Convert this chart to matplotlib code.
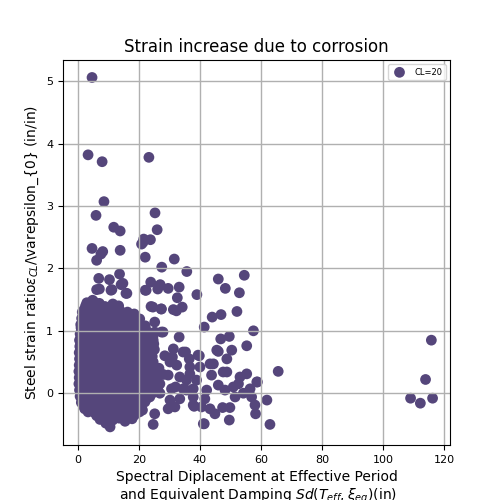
import matplotlib
matplotlib.use("Agg")
import matplotlib.pyplot as plt

# Scattered points (outside the dense blob)
sd_outer = [4.7, 3.4, 8.0, 23.3, 8.6, 6.0, 25.3, 11.8, 13.9, 26.0, 21.6, 23.8, 20.9, 4.7,
            8.2, 7.6, 13.9, 6.2, 22.1, 31.6, 27.5, 35.7, 13.7, 6.9, 10.4, 14.2, 23.9, 27.0,
            29.6, 33.2, 22.1, 6.2, 11.2, 16.1, 26.2, 32.6, 39.0, 4.9, 21.4, 46.0, 54.5,
            48.3, 52.9, 24.0, 27.4, 31.3, 34.2, 32.3, 44.0, 46.9, 52.1, 41.4, 57.5, 25.2,
            46.8, 49.6, 55.3, 46.0, 50.4, 48.8, 35.3, 65.6, 58.8, 61.9, 58.0, 58.2, 62.9,
            49.6, 41.4, 43.3, 44.9, 47.4, 49.8, 38.1, 44.4, 47.6, 53.1, 55.3, 58.6, 56.4,
            54.2, 51.5, 48.2, 42.2, 41.6, 48.8, 52.6, 46.0, 43.8, 40.0, 36.7, 38.9, 35.6,
            37.8, 50.9, 56.9, 108.9, 112.1, 113.8, 115.7, 116.1,
            27.4, 33.2, 31.3, 34.5, 39.4, 45.5, 22.5, 30.2, 32.4, 36.7, 43.3, 29.6, 33.4,
            35.6, 30.7, 34.5, 37.8, 30.2, 33.4, 37.8, 29.6, 31.8, 25.2, 24.7, 40.5, 41.1,
            26.9, 26.9, 25.8, 24.7, 25.2, 7.1, 10.9, 14.8, 15.8, 3.8, 11.5, 22.4, 24.6,
            27.3, 27.9, 28.5, 31.0, 36.5, 39.8, 28.0, 32.0]
ratio_outer = [5.06, 3.82, 3.71, 3.78, 3.07, 2.85, 2.89, 2.66, 2.60, 2.62, 2.47, 2.46, 2.39, 2.32,
               2.27, 2.23, 2.29, 2.13, 2.18, 2.15, 2.02, 1.95, 1.91, 1.84, 1.82, 1.74, 1.78, 1.74,
               1.68, 1.70, 1.65, 1.66, 1.66, 1.60, 1.67, 1.53, 1.58, 1.49, 2.42, 1.83, 1.89,
               1.68, 1.61, 1.39, 1.35, 1.34, 1.38, 1.32, 1.22, 1.26, 1.31, 1.06, 1.00, 1.14,
               0.87, 0.91, 0.76, 0.67, 0.69, 0.55, 0.66, 0.35, 0.18, -0.11, -0.19, -0.33, -0.50,
               -0.43, -0.49, -0.25, -0.33, -0.23, -0.23, -0.21, 0.47, 0.34, 0.26, 0.31, 0.18, 0.07,
               0.00, -0.06, 0.05, 0.05, -0.09, 0.34, 0.15, 0.13, 0.29, 0.42, 0.31, 0.21, 0.05,
               -0.06, 0.10, -0.06, -0.08, -0.16, 0.22, 0.85, -0.08,
               0.98, 0.90, 0.71, 0.66, 0.61, 0.69, 0.77, 0.50, 0.45, 0.42, 0.47, 0.29, 0.26,
               0.21, 0.07, 0.07, 0.07, -0.11, -0.09, -0.19, -0.25, -0.22, -0.33, -0.50, -0.22, -0.49,
               0.15, 0.00, 0.34, 0.85, 0.98, 1.67, 1.65, 1.76, 1.60, 1.41, 1.43, 1.65, 1.38,
               1.35, 0.98, 0.60, 0.58, 0.55, 0.60, 0.30, 0.10]

# Dense blob of points at small spectral displacement (row set A)
sd_blob = [3.0, 5.2, 7.1,
           2.1, 4.3, 6.0, 9.2, 12.1, 16.3,
           2.2, 4.1, 6.2, 8.1, 10.3, 13.2, 15.1, 17.4,
           1.6, 3.5, 5.6, 7.7, 9.8, 11.9, 14.0, 16.1, 18.3, 19.2,
           1.1, 3.0, 5.1, 7.2, 9.3, 11.4, 13.5, 15.6, 17.7, 19.8,
           0.8, 2.8, 4.9, 7.0, 9.1, 11.2, 13.3, 15.4, 17.5, 19.6, 21.7,
           0.6, 2.7, 4.8, 6.9, 9.0, 11.1, 13.2, 15.3, 17.4, 19.5, 21.6, 23.5,
           0.7, 2.6, 4.7, 6.8, 8.9, 11.0, 13.1, 15.2, 17.3, 19.4, 21.5, 23.9,
           0.5, 2.5, 4.6, 6.7, 8.8, 10.9, 13.0, 15.1, 17.2, 19.3, 21.4, 23.7,
           0.6, 2.6, 4.7, 6.8, 8.9, 11.0, 13.1, 15.2, 17.3, 19.4, 21.5, 24.2,
           0.5, 2.5, 4.6, 6.7, 8.8, 10.9, 13.0, 15.1, 17.2, 19.3, 21.4, 23.8,
           0.4, 2.4, 4.5, 6.6, 8.7, 10.8, 12.9, 15.0, 17.1, 19.2, 21.3, 23.6, 25.5,
           0.5, 2.5, 4.6, 6.7, 8.8, 10.9, 13.0, 15.1, 17.2, 19.3, 21.4, 23.5, 25.8,
           0.4, 2.4, 4.5, 6.6, 8.7, 10.8, 12.9, 15.0, 17.1, 19.2, 21.3, 23.4, 25.6,
           0.6, 2.6, 4.7, 6.8, 8.9, 11.0, 13.1, 15.2, 17.3, 19.4, 21.5, 23.7, 25.9,
           0.8, 2.8, 4.9, 7.0, 9.1, 11.2, 13.3, 15.4, 17.5, 19.6, 21.7, 23.6,
           1.2, 3.1, 5.2, 7.3, 9.4, 11.5, 13.6, 15.7, 17.8, 19.9, 22.0,
           2.3, 4.4, 6.5, 8.6, 10.7, 12.8, 14.9, 17.0, 19.1, 21.2,
           6.2, 8.3, 10.4, 12.5, 14.6, 16.7, 18.6,
           9.2, 10.6, 15.5]
ratio_blob = [1.45, 1.47, 1.44,
              1.34, 1.36, 1.33, 1.35, 1.32, 1.30,
              1.25, 1.24, 1.26, 1.23, 1.25, 1.24, 1.22, 1.26,
              1.15, 1.14, 1.16, 1.13, 1.15, 1.16, 1.14, 1.15, 1.13, 1.17,
              1.05, 1.04, 1.06, 1.05, 1.03, 1.05, 1.06, 1.04, 1.05, 1.03,
              0.95, 0.94, 0.96, 0.95, 0.93, 0.95, 0.96, 0.94, 0.95, 0.93, 0.96,
              0.85, 0.84, 0.86, 0.85, 0.83, 0.85, 0.86, 0.84, 0.85, 0.83, 0.86, 0.84,
              0.75, 0.74, 0.76, 0.75, 0.73, 0.75, 0.76, 0.74, 0.75, 0.73, 0.76, 0.74,
              0.65, 0.64, 0.66, 0.65, 0.63, 0.65, 0.66, 0.64, 0.65, 0.63, 0.66, 0.64,
              0.55, 0.54, 0.56, 0.55, 0.53, 0.55, 0.56, 0.54, 0.55, 0.53, 0.56, 0.54,
              0.45, 0.44, 0.46, 0.45, 0.43, 0.45, 0.46, 0.44, 0.45, 0.43, 0.46, 0.44,
              0.35, 0.34, 0.36, 0.35, 0.33, 0.35, 0.36, 0.34, 0.35, 0.33, 0.36, 0.34, 0.36,
              0.25, 0.24, 0.26, 0.25, 0.23, 0.25, 0.26, 0.24, 0.25, 0.23, 0.26, 0.24, 0.25,
              0.15, 0.14, 0.16, 0.15, 0.13, 0.15, 0.16, 0.14, 0.15, 0.13, 0.16, 0.14, 0.15,
              0.05, 0.04, 0.06, 0.05, 0.03, 0.05, 0.06, 0.04, 0.05, 0.03, 0.06, 0.04, 0.05,
              -0.05, -0.06, -0.04, -0.05, -0.07, -0.05, -0.04, -0.06, -0.05, -0.07, -0.04, -0.06,
              -0.15, -0.16, -0.14, -0.15, -0.17, -0.15, -0.14, -0.16, -0.15, -0.17, -0.14,
              -0.25, -0.26, -0.24, -0.25, -0.27, -0.25, -0.24, -0.26, -0.25, -0.27,
              -0.36, -0.38, -0.35, -0.37, -0.36, -0.38, -0.35,
              -0.48, -0.54, -0.45]

# Dense blob, interleaved row set B
sd_blob2 = [2.6, 5.3, 8.9, 13.4,
            1.5, 3.6, 5.7, 7.8, 9.9, 12.0, 14.1, 16.2, 18.5,
            1.3, 3.4, 5.5, 7.6, 9.7, 11.8, 13.9, 16.0, 18.1, 20.3,
            1.0, 3.1, 5.2, 7.3, 9.4, 11.5, 13.6, 15.7, 17.8, 19.9, 22.1,
            1.2, 3.3, 5.4, 7.5, 9.6, 11.7, 13.8, 15.9, 18.0, 20.1, 22.4,
            1.1, 3.2, 5.3, 7.4, 9.5, 11.6, 13.7, 15.8, 17.9, 20.0, 22.2, 24.6,
            1.0, 3.1, 5.2, 7.3, 9.4, 11.5, 13.6, 15.7, 17.8, 19.9, 22.0, 24.9,
            1.2, 3.3, 5.4, 7.5, 9.6, 11.7, 13.8, 15.9, 18.0, 20.1, 22.3, 25.1,
            1.1, 3.2, 5.3, 7.4, 9.5, 11.6, 13.7, 15.8, 17.9, 20.0, 22.1, 24.4,
            1.0, 3.1, 5.2, 7.3, 9.4, 11.5, 13.6, 15.7, 17.8, 19.9, 22.2, 24.7,
            0.9, 3.0, 5.1, 7.2, 9.3, 11.4, 13.5, 15.6, 17.7, 19.8, 22.0, 24.5, 26.6,
            1.0, 3.1, 5.2, 7.3, 9.4, 11.5, 13.6, 15.7, 17.8, 19.9, 22.1, 24.3, 26.4,
            0.9, 3.0, 5.1, 7.2, 9.3, 11.4, 13.5, 15.6, 17.7, 19.8, 21.9, 24.1, 26.2,
            1.1, 3.2, 5.3, 7.4, 9.5, 11.6, 13.7, 15.8, 17.9, 20.0, 22.1, 24.4,
            1.4, 3.5, 5.6, 7.7, 9.8, 11.9, 14.0, 16.1, 18.2, 20.3, 22.5,
            1.8, 3.8, 5.9, 8.0, 10.1, 12.2, 14.3, 16.4, 18.5, 20.6,
            3.4, 5.5, 7.6, 9.7, 11.8, 13.9, 16.0, 18.1, 20.2,
            7.3, 9.4, 11.5, 13.6, 15.7, 17.8]
ratio_blob2 = [1.40, 1.41, 1.39, 1.40,
               1.30, 1.29, 1.31, 1.28, 1.30, 1.29, 1.31, 1.28, 1.27,
               1.20, 1.19, 1.21, 1.18, 1.20, 1.19, 1.21, 1.18, 1.20, 1.19,
               1.10, 1.09, 1.11, 1.08, 1.10, 1.09, 1.11, 1.08, 1.10, 1.09, 1.08,
               1.00, 0.99, 1.01, 0.98, 1.00, 0.99, 1.01, 0.98, 1.00, 0.99, 1.01,
               0.90, 0.89, 0.91, 0.88, 0.90, 0.89, 0.91, 0.88, 0.90, 0.89, 0.91, 0.90,
               0.80, 0.79, 0.81, 0.78, 0.80, 0.79, 0.81, 0.78, 0.80, 0.79, 0.81, 0.79,
               0.70, 0.69, 0.71, 0.68, 0.70, 0.69, 0.71, 0.68, 0.70, 0.69, 0.71, 0.70,
               0.60, 0.59, 0.61, 0.58, 0.60, 0.59, 0.61, 0.58, 0.60, 0.59, 0.61, 0.59,
               0.50, 0.49, 0.51, 0.48, 0.50, 0.49, 0.51, 0.48, 0.50, 0.49, 0.51, 0.50,
               0.40, 0.39, 0.41, 0.38, 0.40, 0.39, 0.41, 0.38, 0.40, 0.39, 0.41, 0.39, 0.40,
               0.30, 0.29, 0.31, 0.28, 0.30, 0.29, 0.31, 0.28, 0.30, 0.29, 0.31, 0.30, 0.29,
               0.10, 0.09, 0.11, 0.08, 0.10, 0.09, 0.11, 0.08, 0.10, 0.09, 0.11, 0.10, 0.09,
               0.00, -0.01, 0.01, -0.02, 0.00, -0.01, 0.01, -0.02, 0.00, -0.01, 0.01, 0.00,
               -0.10, -0.11, -0.09, -0.12, -0.10, -0.11, -0.09, -0.12, -0.10, -0.11, -0.09,
               -0.20, -0.21, -0.19, -0.22, -0.20, -0.21, -0.19, -0.22, -0.20, -0.21,
               -0.30, -0.31, -0.29, -0.32, -0.30, -0.31, -0.29, -0.32, -0.30,
               -0.42, -0.41, -0.43, -0.40, -0.42, -0.41]

sd = sd_outer + sd_blob + sd_blob2
ratio = ratio_outer + ratio_blob + ratio_blob2

color = "#55467b"

fig, ax = plt.subplots(figsize=(5, 5), dpi=100)
ax.scatter(sd, ratio, s=60, color=color, edgecolors="none", linewidths=0,
           label="CL=20")
ax.grid(True, color="#b0b0b0", linewidth=1.0)
ax.set_xlim(-4.8, 121.8)
ax.set_ylim(-0.83, 5.34)
ax.set_title("Strain increase due to corrosion", fontsize=12)
ax.set_xlabel("Spectral Diplacement at Effective Period\n and Equivalent Damping $Sd(T_{eff},\\xi_{eq})$(in)",
              fontsize=10)
ax.set_ylabel(r"Steel strain ratio$\varepsilon_{CL}$/\varepsilon_{0} (in/in)", fontsize=10)
ax.tick_params(labelsize=8)
ax.legend(loc="upper right", fontsize=6)
fig.subplots_adjust(left=0.126, right=0.9, top=0.88, bottom=0.11)
fig.savefig("out.png", dpi=100)
